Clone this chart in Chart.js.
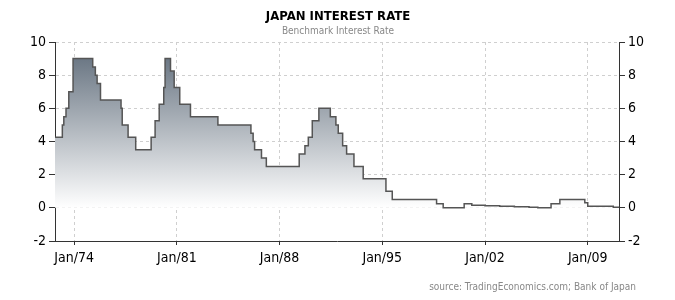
<!DOCTYPE html>
<html>
<head>
<meta charset="utf-8">
<script src="https://cdn.jsdelivr.net/npm/chart.js@4"></script>
<style>
  body { margin: 0; background: #fff; }
  #wrap { width: 675px; height: 300px; }
</style>
</head>
<body>
<div id="wrap"><canvas id="myChart" width="675" height="300"></canvas></div>
<script>
'use strict'

// DATA (decimal years where the rate changes, and the new rate)
const changeDates = [1972.7, 1973.2, 1973.3, 1973.45, 1973.64, 1973.93, 1975.27, 1975.45, 1975.57, 1975.8,
  1977.2, 1977.28, 1977.68, 1978.2, 1979.25, 1979.52, 1979.8, 1980.11, 1980.2, 1980.57,
  1980.82, 1981.2, 1981.93, 1983.8, 1986.05, 1986.2, 1986.3, 1986.77, 1987.1, 1989.34,
  1989.73, 1989.96, 1990.23, 1990.68, 1991.46, 1991.84, 1992.0, 1992.3, 1992.57, 1993.07,
  1993.7, 1995.25, 1995.68, 1998.7, 1999.15, 2000.58, 2001.1, 2002.0, 2003.0, 2004.0,
  2005.0, 2005.6, 2006.5, 2007.1, 2008.8, 2009.0, 2010.74, 2011.13];
const rates = [4.25, 5.0, 5.5, 6.0, 7.0, 9.0, 8.5, 8.0, 7.5, 6.5,
  6.0, 5.0, 4.25, 3.5, 4.25, 5.25, 6.25, 7.25, 9.0, 8.25,
  7.25, 6.25, 5.5, 5.0, 4.5, 4.0, 3.5, 3.0, 2.5, 3.25,
  3.75, 4.25, 5.25, 6.0, 5.5, 5.0, 4.5, 3.75, 3.25, 2.5,
  1.75, 1.0, 0.5, 0.25, 0.0, 0.25, 0.15, 0.12, 0.09, 0.06,
  0.03, 0.0, 0.25, 0.5, 0.3, 0.1, 0.03, 0.03];
const tickYears = [1974, 1981, 1988, 1995, 2002, 2009];
const yTicks = [-2, 0, 2, 4, 6, 8, 10];

const FONT = "'DejaVu Sans Condensed', 'DejaVu Sans', sans-serif";
Chart.defaults.font.family = FONT;
Chart.defaults.color = '#000';

let points = [];
for (let i = 0; i < changeDates.length; i++) {
  points.push({ x: changeDates[i], y: rates[i] });
}

// gradient fill from top of the data down to the zero line
function areaFill(context) {
  const chart = context.chart;
  const area = chart.chartArea;
  if (!area) return 'rgba(110,122,135,0.6)';
  const y = chart.scales.y;
  const g = chart.ctx.createLinearGradient(0, y.getPixelForValue(9), 0, y.getPixelForValue(0));
  g.addColorStop(0, 'rgb(108,120,133)');
  g.addColorStop(1, 'rgb(255,255,255)');
  return g;
}

// titles and source text
const textPlugin = {
  id: 'texts',
  afterDraw(chart) {
    const ctx = chart.ctx;
    ctx.save();
    ctx.textAlign = 'center';
    ctx.textBaseline = 'middle';
    ctx.fillStyle = '#000';
    ctx.font = "bold 13px " + FONT;
    ctx.fillText('JAPAN INTEREST RATE', 338, 17);
    ctx.fillStyle = '#888';
    ctx.font = "10px " + FONT;
    ctx.fillText('Benchmark Interest Rate', 338, 31);
    ctx.textAlign = 'right';
    ctx.fillText('source: TradingEconomics.com; Bank of Japan', 636, 287);
    ctx.restore();
  }
};

function yAxis(position, width, onArea) {
  return {
    type: 'linear',
    position: position,
    min: -2,
    max: 10,
    afterBuildTicks: (scale) => { scale.ticks = yTicks.map(v => ({ value: v })); },
    afterFit: (scale) => { scale.width = width; },
    ticks: { font: { size: 14 }, color: '#000', padding: 3 },
    grid: {
      drawOnChartArea: onArea,
      color: '#cfcfcf',
      tickColor: '#333',
      tickLength: 6
    },
    border: { display: true, color: '#333', width: 1, dash: [3, 3] }
  };
}

const config = {
  type: 'line',
  data: {
    datasets: [{
      data: points,
      stepped: 'before',
      borderColor: '#555',
      borderWidth: 1.5,
      pointRadius: 0,
      fill: 'origin',
      backgroundColor: areaFill
    }]
  },
  options: {
    responsive: false,
    animation: false,
    layout: { padding: { top: 42, left: 0, right: 0, bottom: 0 } },
    plugins: { legend: { display: false }, tooltip: { enabled: false } },
    scales: {
      x: {
        type: 'linear',
        min: 1972.7,
        max: 2011.13,
        afterBuildTicks: (scale) => { scale.ticks = tickYears.map(v => ({ value: v })); },
        afterFit: (scale) => { scale.height = 59; },
        ticks: {
          font: { size: 14 },
          color: '#000',
          padding: 5,
          maxRotation: 0,
          callback: (v) => 'Jan/' + String(v).slice(2)
        },
        grid: { color: '#cfcfcf', tickColor: '#333', tickLength: 4 },
        border: { display: true, color: '#333', width: 1, dash: [3, 3] }
      },
      y: yAxis('left', 55, true),
      y1: yAxis('right', 56, false)
    }
  },
  plugins: [textPlugin]
};

let canvasChart = document.getElementById('myChart');
const myChart = new Chart(canvasChart, config);
</script>
</body>
</html>
